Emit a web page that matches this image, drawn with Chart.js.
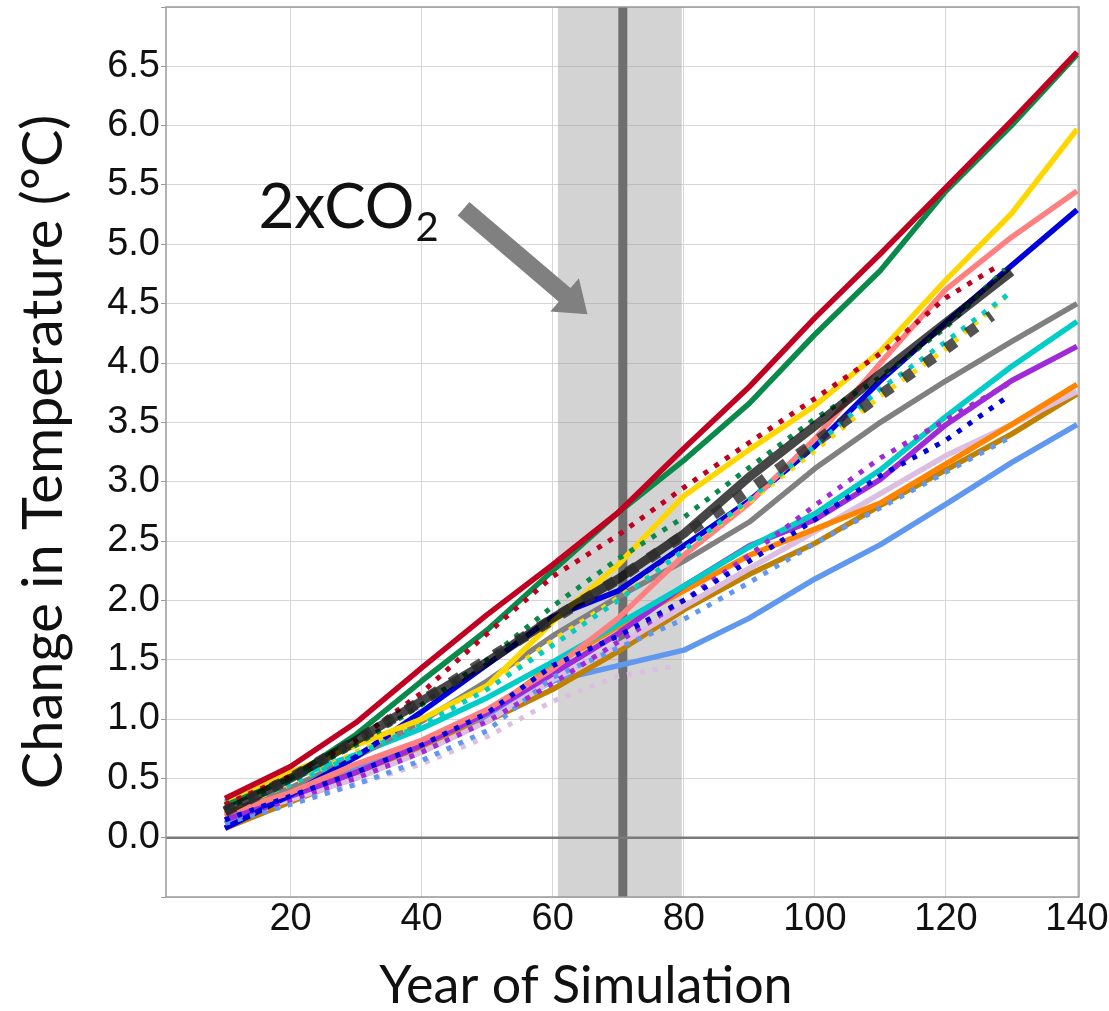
<!DOCTYPE html>
<html><head><meta charset="utf-8">
<script src="https://cdn.jsdelivr.net/npm/chart.js@4/dist/chart.umd.min.js"></script>
<style>html,body{margin:0;padding:0;background:#fff;overflow:hidden}</style>
</head><body>
<canvas id="c" width="1109" height="1011"></canvas>
<script>
// ---- data ----
const years      = [10,20,30,40,50,60,70,80,90,100,110,120,130,140];
const years130   = [10,20,30,40,50,60,70,80,90,100,110,120,130];
const years129   = [10,20,30,40,50,60,70,80,90,100,110,120,129];
const years128   = [10,20,30,40,50,60,70,80,90,100,110,120,128];
const yearsMean  = [10,20,30,40,50,60,70,80,90,100,110,120,127];
const yearsPlum  = [10,20,30,40,50,60,70,78];

const redSolid    = [0.33,0.60,0.97,1.43,1.88,2.30,2.74,3.28,3.80,4.38,4.92,5.48,6.04,6.62];
const greenSolid  = [0.27,0.50,0.87,1.32,1.75,2.25,2.74,3.18,3.66,4.24,4.78,5.45,6.00,6.60];
const yellowSolid = [0.28,0.55,0.78,1.00,1.28,1.82,2.30,2.88,3.27,3.64,4.10,4.70,5.26,5.97];
const salmonSolid = [0.20,0.38,0.62,0.82,1.08,1.42,1.85,2.38,2.82,3.36,4.00,4.62,5.06,5.45];
const blueSolid   = [0.08,0.36,0.68,1.06,1.46,1.86,2.08,2.46,2.84,3.30,3.85,4.34,4.82,5.29];
const graySolid   = [0.20,0.42,0.68,0.98,1.32,1.70,2.03,2.33,2.66,3.11,3.50,3.85,4.18,4.50];
const cyanSolid   = [0.30,0.50,0.70,0.92,1.18,1.48,1.80,2.12,2.45,2.73,3.10,3.55,3.97,4.35];
const purpleSolid = [0.15,0.35,0.55,0.78,1.05,1.38,1.72,2.12,2.46,2.68,3.02,3.48,3.85,4.14];
const orangeSolid = [0.18,0.38,0.55,0.78,1.05,1.45,1.78,2.08,2.38,2.60,2.82,3.15,3.48,3.82];
const plumSolid   = [0.18,0.32,0.50,0.72,0.98,1.33,1.62,1.95,2.27,2.58,2.90,3.22,3.48,3.76];
const goldSolid   = [0.08,0.30,0.52,0.76,0.98,1.25,1.57,1.92,2.22,2.48,2.80,3.10,3.40,3.74];
const cornSolid   = [0.12,0.40,0.58,0.80,1.02,1.32,1.45,1.58,1.85,2.18,2.47,2.81,3.16,3.48];
const blackSolid  = [0.22,0.50,0.82,1.15,1.48,1.85,2.18,2.56,3.04,3.47,3.91,4.34,4.77];
const meanDashed  = [0.22,0.50,0.82,1.15,1.50,1.84,2.18,2.55,2.93,3.33,3.73,4.12,4.40];

const redDot    = [0.28,0.52,0.82,1.22,1.72,2.20,2.55,2.95,3.33,3.70,4.08,4.55,4.82];
const greenDot  = [0.25,0.50,0.78,1.12,1.50,1.95,2.35,2.70,3.12,3.53,3.88,4.30,4.79];
const cyanDot   = [0.25,0.45,0.70,0.95,1.25,1.62,2.00,2.42,2.85,3.30,3.78,4.18,4.60];
const yellowDot = [0.23,0.45,0.72,0.98,1.28,1.66,2.02,2.42,2.83,3.26,3.72,4.12,4.55];
const blueDot   = [0.15,0.35,0.55,0.78,1.05,1.45,1.70,2.00,2.33,2.68,3.05,3.35,3.70];
const purpleDot = [0.15,0.32,0.50,0.72,0.98,1.30,1.65,2.00,2.38,2.80,3.20,3.52,3.84];
const cornDot   = [0.12,0.28,0.45,0.65,0.90,1.35,1.60,1.84,2.15,2.48,2.78,3.08,3.38];
const plumDot   = [0.15,0.30,0.45,0.62,0.85,1.15,1.36,1.44];

const xTicks = [20,40,60,80,100,120,140];
const yTicks = [-0.5,0,0.5,1,1.5,2,2.5,3,3.5,4,4.5,5,5.5,6,6.5,7];
const yLabelMin = 0, yLabelMax = 6.5;

const band = [60.8, 79.7];
const doubling = 70.7;
const noteText = '2xCO', noteSub = '2';
const notePos = [15.1, 5.14];
const arrowFrom = [46.4, 5.30], arrowTo = [65.3, 4.41];

// ---- build datasets ----
function pts(xs, ys){ return xs.map((x,i)=>({x:x, y:ys[i]})); }
function ds(xs, ys, color, width, dash){
  return {data: pts(xs, ys), borderColor: color, borderWidth: width, borderDash: dash || [],
          fill:false, pointRadius:0, tension:0, borderCapStyle: 'butt', borderJoinStyle:'round'};
}
const DOT = [5,8];
const W = 5.5;
const datasets = [
  ds(yearsMean, meanDashed, 'rgba(45,45,45,0.82)', 11, [11,15]),
  ds(years130, blackSolid, 'rgba(0,0,0,0.72)', 9),
  ds(years128, redDot, '#c00020', 5, DOT),
  ds(years129, greenDot, '#0a8a4a', 5, DOT),
  ds(years130, cyanDot, '#00cdc8', 5, DOT),
  ds(years129, yellowDot, '#ffd700', 5, DOT),
  ds(years129, blueDot, '#0000dd', 5, DOT),
  ds(years130, purpleDot, '#a02ad8', 5, DOT),
  ds(years130, cornDot, '#6098f0', 5, DOT),
  ds(yearsPlum, plumDot, '#dcbfe0', 5, DOT),
  ds(years, redSolid, '#c00020', W),
  ds(years, greenSolid, '#0a8a4a', W),
  ds(years, yellowSolid, '#ffd700', W),
  ds(years, salmonSolid, '#ff8080', W),
  ds(years, blueSolid, '#0000dd', W),
  ds(years, graySolid, '#808080', W),
  ds(years, cyanSolid, '#00cdc8', W),
  ds(years, purpleSolid, '#a02ad8', W),
  ds(years, orangeSolid, '#ff8400', W),
  ds(years, plumSolid, '#dcbfe0', W),
  ds(years, goldSolid, '#c08000', W),
  ds(years, cornSolid, '#6098f0', W)
];

const decor = {
  id: 'decor',
  beforeDatasetsDraw(chart){
    const {ctx, chartArea:a, scales:{x, y}} = chart;
    ctx.save();
    ctx.fillStyle = 'rgba(150,150,150,0.42)';
    const b0 = x.getPixelForValue(band[0]), b1 = x.getPixelForValue(band[1]);
    ctx.fillRect(b0, a.top, b1-b0, a.bottom-a.top);
    ctx.strokeStyle = '#6e6e6e'; ctx.lineWidth = 9;
    const dx = x.getPixelForValue(doubling);
    ctx.beginPath(); ctx.moveTo(dx, a.top); ctx.lineTo(dx, a.bottom); ctx.stroke();
    ctx.strokeStyle = '#7a7a7a'; ctx.lineWidth = 2.5;
    const zy = y.getPixelForValue(0);
    ctx.beginPath(); ctx.moveTo(a.left, zy); ctx.lineTo(a.right, zy); ctx.stroke();
    ctx.strokeStyle = '#9a9a9a'; ctx.lineWidth = 1.5;
    ctx.strokeRect(a.left, a.top, a.right-a.left, a.bottom-a.top);
    ctx.restore();
  },
  afterDraw(chart){
    const {ctx, chartArea:a, scales:{x, y}} = chart;
    ctx.save();
    const x0 = x.getPixelForValue(arrowFrom[0]), y0 = y.getPixelForValue(arrowFrom[1]);
    const x1 = x.getPixelForValue(arrowTo[0]), y1 = y.getPixelForValue(arrowTo[1]);
    const ang = Math.atan2(y1-y0, x1-x0);
    const headLen = 30, headHalf = 22;
    const bx = x1 - headLen*Math.cos(ang), by = y1 - headLen*Math.sin(ang);
    ctx.strokeStyle = '#808080'; ctx.fillStyle = '#808080'; ctx.lineWidth = 18; ctx.lineCap = 'butt';
    ctx.beginPath(); ctx.moveTo(x0, y0); ctx.lineTo(bx + 2*Math.cos(ang), by + 2*Math.sin(ang)); ctx.stroke();
    ctx.beginPath();
    ctx.moveTo(x1, y1);
    ctx.lineTo(bx + headHalf*Math.sin(ang), by - headHalf*Math.cos(ang));
    ctx.lineTo(bx - headHalf*Math.sin(ang), by + headHalf*Math.cos(ang));
    ctx.closePath(); ctx.fill();
    const tx = x.getPixelForValue(notePos[0]), ty = y.getPixelForValue(notePos[1]);
    ctx.fillStyle = '#111'; ctx.textBaseline = 'alphabetic'; ctx.textAlign = 'left';
    ctx.font = '62px Lato';
    ctx.fillText(noteText, tx, ty);
    const w = ctx.measureText(noteText).width;
    ctx.font = '40px Lato';
    ctx.fillText(noteSub, tx + w + 1, ty + 13);
    ctx.fillStyle = '#111';
    ctx.font = '52px Lato';
    ctx.textAlign = 'center'; ctx.textBaseline = 'middle';
    ctx.fillText('Year of Simulation', 586, 986);
    ctx.save();
    ctx.translate(44, (a.top + a.bottom)/2);
    ctx.rotate(-Math.PI/2);
    ctx.font = '56px Lato';
    ctx.fillText('Change in Temperature (°C)', 0, 0);
    ctx.restore();
    ctx.restore();
  }
};

new Chart(document.getElementById('c'), {
  type: 'line',
  data: { datasets },
  options: {
    responsive: false, animation: false, devicePixelRatio: 1,
    layout: { padding: { top: 7, right: 30, left: 0, bottom: 0 } },
    plugins: { legend: { display: false }, tooltip: { enabled: false } },
    scales: {
      x: {
        type: 'linear', min: 1, max: 140.3,
        afterBuildTicks: s => { s.ticks = xTicks.map(v => ({ value: v })); },
        afterFit: s => { s.height = 114; s.paddingLeft = 0; s.paddingRight = 0; },
        grid: { color: '#d6d6d6', lineWidth: 1, drawTicks: false },
        border: { display: false },
        ticks: { font: { family: 'Liberation Sans', size: 38 }, color: '#111', padding: 0, maxRotation: 0,
                 callback: v => String(v) }
      },
      y: {
        type: 'linear', min: -0.5, max: 7.0,
        afterBuildTicks: s => { s.ticks = yTicks.map(v => ({ value: v })); },
        afterFit: s => { s.width = 166; s.paddingTop = 0; s.paddingBottom = 0; },
        grid: { color: '#d6d6d6', lineWidth: 1, tickLength: 5, tickColor: '#9a9a9a' },
        border: { display: false },
        ticks: { font: { family: 'Liberation Sans', size: 38 }, color: '#111', padding: 1,
                 callback: v => (v >= yLabelMin - 1e-9 && v <= yLabelMax + 1e-9) ? v.toFixed(1) : '' }
      }
    }
  },
  plugins: [decor]
});
</script>
</body></html>
